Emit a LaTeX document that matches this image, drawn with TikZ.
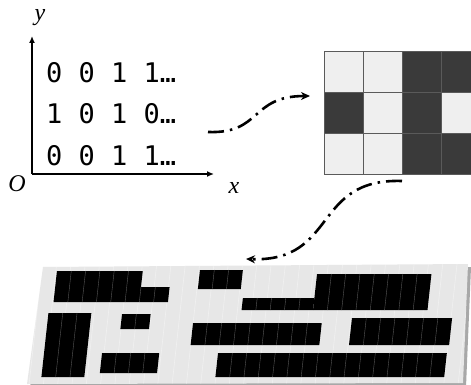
\documentclass[tikz,border=0pt]{standalone}
\usepackage{fontspec}
\setmainfont{Liberation Serif}
\newfontfamily\monofont{DejaVu Sans Mono}
\usetikzlibrary{arrows.meta}
\definecolor{lightcell}{HTML}{EFEFEF}
\definecolor{darkcell}{HTML}{3A3A3A}
\definecolor{gridline}{HTML}{5A5A5A}
\definecolor{panelgray}{HTML}{E7E7E7}
\definecolor{shadowgray}{HTML}{A8A8A8}
\newcommand{\solarblk}[4]{% u-left, y-top, cells, y-bottom
  \fill[black] (#1,#2) -- ++(#3*14.3,0) -- ++(0,#4-#2) -- ++(-#3*14.3,0) -- cycle;
  \foreach \k in {1,...,#3}{\ifnum\k<#3\relax
    \draw[cellsep] (#1+\k*14.3,#2) -- (#1+\k*14.3,#4);\fi}}
\begin{document}
\begin{tikzpicture}[x=1pt,y=-1pt,
  axis/.style={line width=1.3pt,-{Latex[length=7pt,width=6pt]}},
  flow/.style={line width=2.6pt,dash pattern=on 16pt off 6pt on 2.5pt off 6pt,-{Stealth[length=9pt,width=8pt]}},
  digits/.style={font=\monofont\fontsize{27}{31}\selectfont,anchor=base west,inner sep=0pt},
  axlabel/.style={font=\itshape\fontsize{24}{28}\selectfont,inner sep=0pt},
  lightsq/.style={fill=lightcell,draw=gridline,line width=0.9pt},
  darksq/.style={fill=darkcell,draw=gridline,line width=0.9pt},
  cellsep/.style={draw=gray!70!black,line width=0.4pt},
  stripe/.style={draw=white,line width=0.6pt,opacity=0.4}]
\clip (0,0) rectangle (471,385);
\fill[white] (0,0) rectangle (471,385);

% axes and bit matrix
\coordinate (O) at (32,174);
\coordinate (ytip) at (32,36);
\coordinate (xtip) at (214,174);
\draw[axis] (O) -- (ytip);
\draw[axis] (O) -- (xtip);
\node[axlabel,anchor=base] (ylab) at (40,21) {y};
\node[axlabel] (olab) at (17,184) {O};
\node[axlabel] (xlab) at (234,188) {x};
\node[digits] (row1) at (46,83) {0 0 1 1…};
\node[digits] (row2) at (46,124) {1 0 1 0…};
\node[digits] (row3) at (46,165) {0 0 1 1…};

% image grid
\foreach \r/\pat in {0/{0,0,1,1},1/{1,0,1,0},2/{0,0,1,1}}{
  \foreach \v [count=\c from 0] in \pat {
    \ifnum\v=1
      \draw[darksq] (324+\c*39,51+\r*41) rectangle ++(39,41);
    \else
      \draw[lightsq] (324+\c*39,51+\r*41) rectangle ++(39,41);
    \fi}}

% flow arrows
\coordinate (a1s) at (208,132);
\coordinate (a1e) at (310,96);
\coordinate (a2s) at (402,181);
\coordinate (a2e) at (246,259);
\draw[flow] (a1s) .. controls (262,134) and (250,96) .. (a1e);
\draw[flow] (a2s) .. controls (312,178) and (338,262) .. (a2e);

% panel
\fill[shadowgray] (46,270) -- (471,267) -- (466,387) -- (30,388) -- cycle;
\fill[panelgray] (43,267) -- (468,264) -- (463,383) -- (27,384) -- cycle;
\begin{scope}
  \clip (43,267) -- (468,264) -- (463,383) -- (27,384) -- cycle;
  \begin{scope}[xshift=29.37pt,xslant=0.11]
    \foreach \k in {0,...,32}{\draw[stripe] (42+\k*14.3,250) -- (42+\k*14.3,390);}
  \end{scope}
\end{scope}
\begin{scope}[xshift=29.37pt,xslant=0.11]
  \solarblk{57.4}{271}{6}{287}
  \solarblk{57.4}{287}{8}{302}
  \solarblk{53.5}{313}{3}{377}
  \solarblk{127.2}{314}{2}{329}
  \solarblk{111.5}{353}{4}{373}
  \solarblk{200.3}{270}{3}{289}
  \solarblk{317.8}{274}{8}{310}
  \solarblk{246.3}{298}{5}{310}
  \solarblk{199.2}{323}{9}{345}
  \solarblk{357.6}{318}{7}{345}
  \solarblk{227.5}{353}{16}{377}
\end{scope}
\end{tikzpicture}
\end{document}
